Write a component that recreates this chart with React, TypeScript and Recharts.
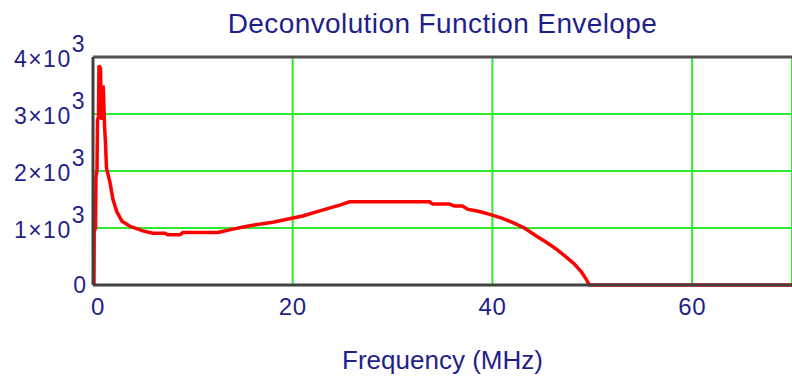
import React from "react";
import { LineChart, Line, XAxis, YAxis, CartesianGrid, ReferenceLine } from "recharts";

const TITLE = "Deconvolution Function Envelope";
const X_LABEL = "Frequency (MHz)";
const X_TICKS = [0, 20, 40, 60];
const Y_TICKS = [0, 1000, 2000, 3000, 4000];

const FREQ = [
  0.1, 0.12, 0.25, 0.3, 0.4, 0.45, 0.55, 0.6, 0.75, 0.85, 0.95, 1.0, 1.05, 1.15, 1.25, 1.35,
  1.7, 2.0, 2.4, 2.9, 3.7, 5.0, 6.0, 7.2, 7.5, 8.7, 9.0, 12.5, 14, 15.7, 18, 19.9, 21, 22.7,
  24.7, 25.7, 33.7, 34, 35.7, 36.2, 37, 37.5, 38.7, 39.9, 41, 42, 43.2, 44.4, 45.4, 46.4,
  47.4, 48.2, 48.9, 49.4, 49.7, 70,
];
const ENVELOPE = [
  0, 950, 1000, 1900, 2000, 2900, 2950, 3850, 3800, 2900, 2950, 3500, 3400, 2800, 2500, 2050,
  1800, 1500, 1280, 1120, 1030, 950, 910, 910, 880, 880, 920, 920, 980, 1040, 1100, 1170, 1210,
  1300, 1400, 1460, 1460, 1420, 1420, 1385, 1385, 1330, 1290, 1230, 1170, 1100, 1000, 860, 750,
  630, 490, 370, 230, 100, 0, 0,
];

const data = FREQ.map((f, i) => ({ f, v: ENVELOPE[i] }));

const TEXT = "#1f1f8c";
const FONT = "'Liberation Sans', Arial, sans-serif";

const XTick = (props: any) => {
  const { x, y, payload } = props;
  const dx = payload.value === 0 ? 5 : 0;
  return (
    <text x={x + dx} y={y} dy={22} textAnchor="middle" fill={TEXT} fontSize={24} fontFamily={FONT} letterSpacing={0.5}>
      {payload.value}
    </text>
  );
};

const YTick = (props: any) => {
  const { y, payload } = props;
  const v = payload.value;
  if (v === 0) {
    return (
      <text x={86} y={y + 8} textAnchor="end" fill={TEXT} fontSize={23} fontFamily={FONT}>
        0
      </text>
    );
  }
  return (
    <text x={86} y={y + 10} textAnchor="end" fill={TEXT} fontSize={23} fontFamily={FONT} letterSpacing={1.5}>
      <tspan>{`${v / 1000}×10`}</tspan>
      <tspan dy={-15}>3</tspan>
    </text>
  );
};

export default function App() {
  return (
    <div style={{ position: "absolute", left: 0, top: 0, width: 792, height: 379, background: "#fff" }}>
      <div
        style={{
          position: "absolute",
          left: 93,
          width: 699,
          top: 6,
          textAlign: "center",
          fontFamily: FONT,
          fontSize: 28,
          color: TEXT,
          lineHeight: "36px",
          letterSpacing: 0.4,
        }}
      >
        {TITLE}
      </div>
      <LineChart width={792} height={379} data={data} margin={{ top: 57, right: 0, left: 0, bottom: 0 }}>
        <CartesianGrid stroke="#2eea2e" strokeWidth={2} horizontal vertical />
        <XAxis
          dataKey="f"
          type="number"
          domain={[0, 70]}
          ticks={X_TICKS}
          allowDataOverflow
          axisLine={{ stroke: "#404040", strokeWidth: 3 }}
          tickLine={false}
          tick={<XTick />}
          height={94}
        />
        <YAxis
          type="number"
          domain={[0, 4000]}
          ticks={Y_TICKS}
          axisLine={{ stroke: "#404040", strokeWidth: 3 }}
          tickLine={false}
          tick={<YTick />}
          width={93}
        />
        <ReferenceLine y={4000} stroke="#505050" strokeWidth={3} />
        <Line
          type="linear"
          dataKey="v"
          stroke="#ff0000"
          strokeWidth={3.5}
          dot={false}
          isAnimationActive={false}
        />
      </LineChart>
      <div
        style={{
          position: "absolute",
          left: 93,
          width: 699,
          top: 343,
          textAlign: "center",
          fontFamily: FONT,
          fontSize: 26,
          color: TEXT,
          lineHeight: "34px",
        }}
      >
        {X_LABEL}
      </div>
    </div>
  );
}
